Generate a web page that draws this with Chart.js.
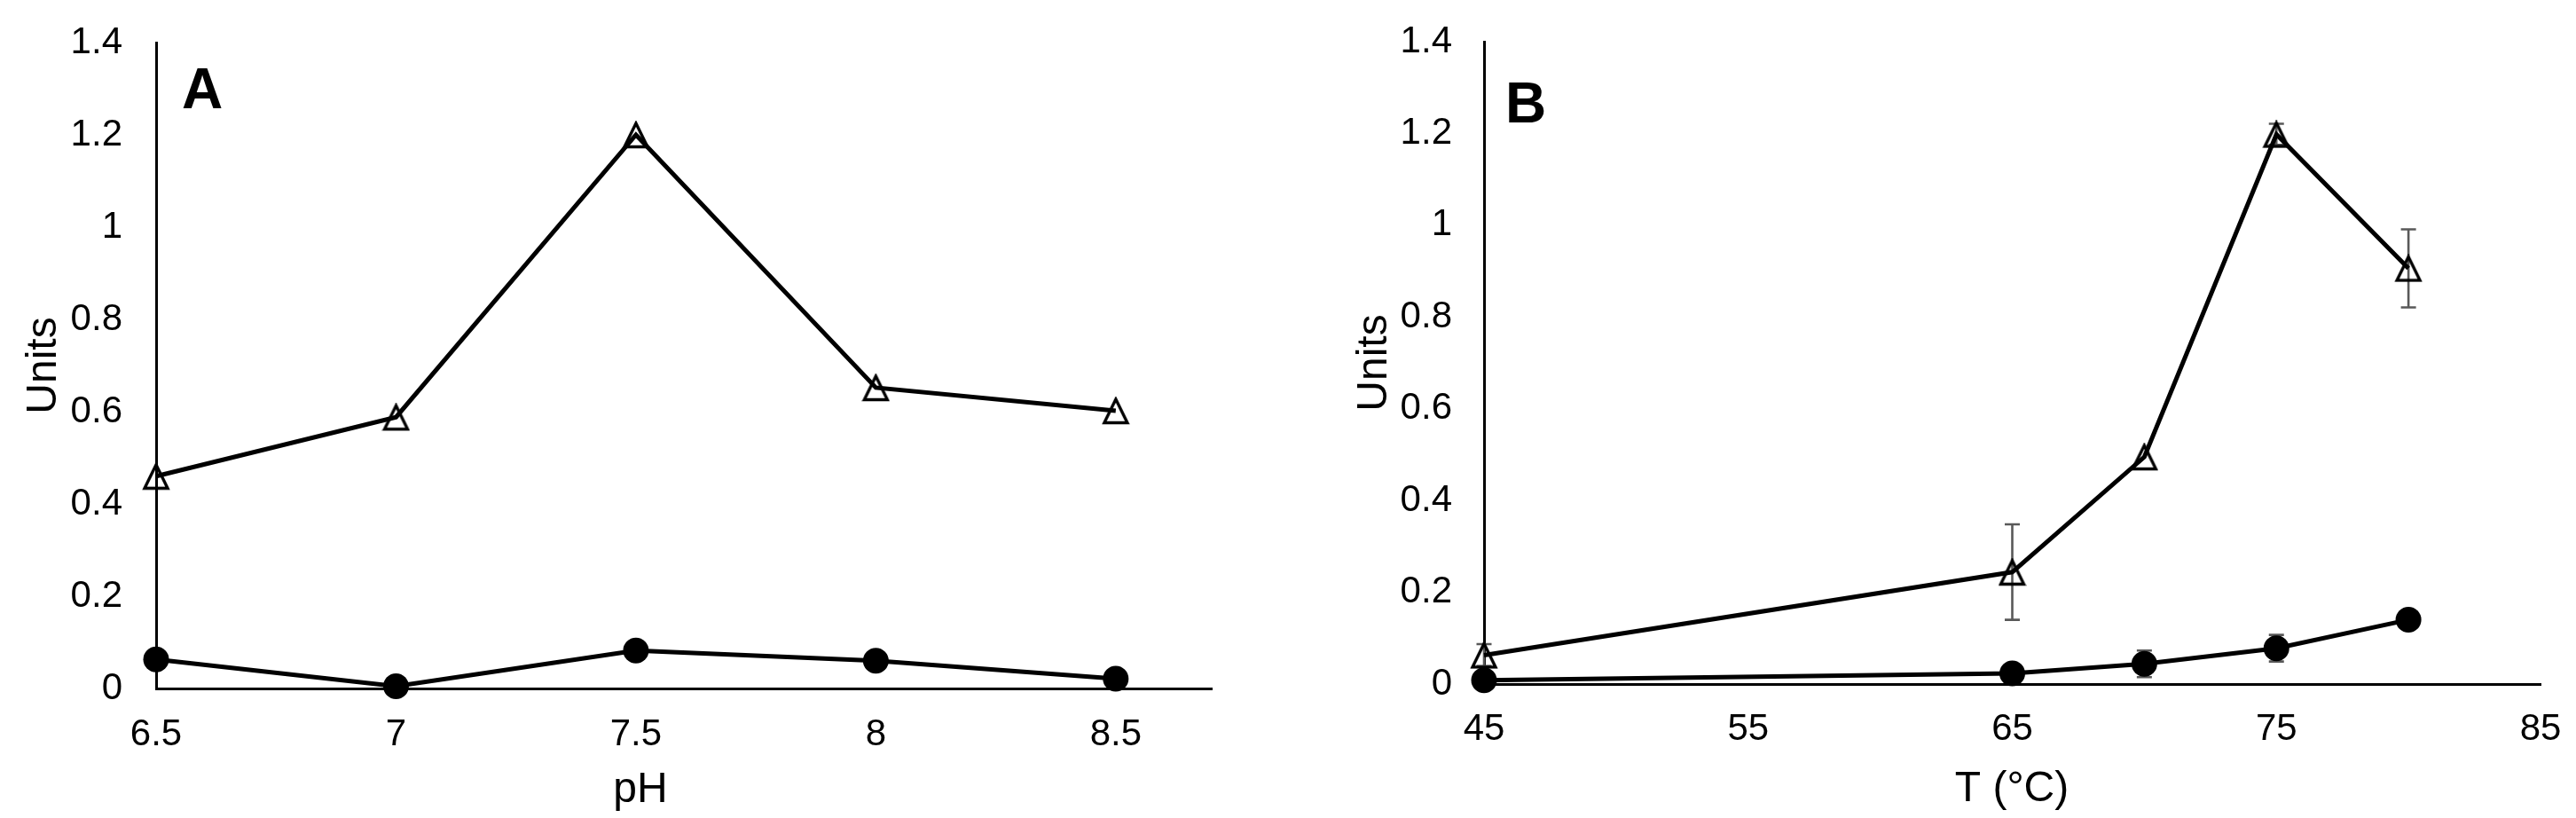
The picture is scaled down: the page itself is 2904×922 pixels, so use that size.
<!DOCTYPE html>
<html><head><meta charset="utf-8">
<script src="https://cdn.jsdelivr.net/npm/chart.js@4"></script>
<style>
html,body{margin:0;padding:0;background:#fff;}
#wrap{position:relative;width:2904px;height:922px;overflow:hidden;}
canvas{position:absolute;top:0;}
</style></head><body>
<div id="wrap">
<canvas id="cA" width="1452" height="922" style="left:0;width:1452px;height:922px"></canvas>
<canvas id="cB" width="1452" height="922" style="left:1452px;width:1452px;height:922px"></canvas>
</div>
<script>
// ---- data ----
const pH = [6.5, 7, 7.5, 8, 8.5];
const unitsTriA = [0.46, 0.588, 1.2, 0.652, 0.602];
const unitsCirA = [0.063, 0.005, 0.082, 0.06, 0.021];

const temp = [45, 65, 70, 75, 80];
const unitsTriB = [0.063, 0.244, 0.495, 1.198, 0.906];
const errTriB = [0.024, 0.104, 0, 0.023, 0.085];
const unitsCirB = [0.008, 0.023, 0.044, 0.078, 0.14];
const errCirB = [0, 0.006, 0.029, 0.029, 0];

const yTicks = [0, 0.2, 0.4, 0.6, 0.8, 1, 1.2, 1.4];
const xTicksA = [6.5, 7, 7.5, 8, 8.5];
const xTicksB = [45, 55, 65, 75, 85];

const FONT = "'Liberation Sans', Arial, Helvetica, sans-serif";

// open triangle marker
const tri = document.createElement('canvas');
tri.width = 32; tri.height = 32;
(function(){
  const c = tri.getContext('2d');
  c.strokeStyle = '#000'; c.lineWidth = 3.4; c.lineJoin = 'miter';
  c.beginPath(); c.moveTo(16, 3); c.lineTo(29, 29.5); c.lineTo(3, 29.5); c.closePath(); c.stroke();
})();

const pts = (xs, ys) => xs.map((x, i) => ({x: x, y: ys[i]}));

const errorBars = {
  id: 'errorBars',
  beforeDatasetsDraw(chart, args, opts) {
    if (!opts.sets) return;
    const ctx = chart.ctx, xs = chart.scales.x, ys = chart.scales.y;
    ctx.save();
    ctx.strokeStyle = '#595959'; ctx.lineWidth = 2.6;
    opts.sets.forEach(s => {
      s.x.forEach((xv, i) => {
        const e = s.err[i];
        if (!e) return;
        const px = xs.getPixelForValue(xv);
        const t = ys.getPixelForValue(s.y[i] + e);
        const b = ys.getPixelForValue(s.y[i] - e);
        ctx.beginPath();
        ctx.moveTo(px, t); ctx.lineTo(px, b);
        ctx.moveTo(px - 8.5, t); ctx.lineTo(px + 8.5, t);
        ctx.moveTo(px - 8.5, b); ctx.lineTo(px + 8.5, b);
        ctx.stroke();
      });
    });
    ctx.restore();
  }
};

const texts = {
  id: 'texts',
  afterDraw(chart, args, o) {
    const ctx = chart.ctx;
    ctx.save();
    ctx.fillStyle = '#000';
    ctx.font = 'bold 64px ' + FONT;
    ctx.textAlign = 'left'; ctx.textBaseline = 'alphabetic';
    ctx.fillText(o.letter, o.letterX, o.letterY);
    ctx.font = '48px ' + FONT;
    ctx.textAlign = 'center';
    ctx.fillText(o.xTitle, o.xTitleX, o.xTitleY);
    ctx.translate(o.yTitleX, o.yTitleY);
    ctx.rotate(-Math.PI / 2);
    ctx.fillText('Units', 0, 0);
    ctx.restore();
  }
};

function makeChart(id, xs, tri_y, cir_y, xMin, xMax, xTicks, geo, textOpts, errSets) {
  const scaleCommon = {
    grid: {display: false, drawTicks: false},
    border: {display: true, color: '#000', width: 3},
  };
  return new Chart(document.getElementById(id), {
    type: 'line',
    data: {
      datasets: [
        {data: pts(xs, cir_y), borderColor: '#000', borderWidth: 5, pointStyle: 'circle',
         pointRadius: 14.5, pointBackgroundColor: '#000', pointBorderColor: '#000', pointBorderWidth: 0,
         clip: false, tension: 0, fill: false},
        {data: pts(xs, tri_y), borderColor: '#000', borderWidth: 5, pointStyle: tri,
         pointRadius: 15, clip: false, tension: 0, fill: false}
      ]
    },
    options: {
      responsive: false, animation: false, devicePixelRatio: 1, events: [],
      layout: {padding: {left: 0, top: geo.top, right: geo.right, bottom: 0}},
      plugins: {legend: {display: false}, tooltip: {enabled: false},
                texts: textOpts, errorBars: {sets: errSets}},
      scales: {
        x: Object.assign({}, scaleCommon, {
          type: 'linear', min: xMin, max: xMax,
          afterBuildTicks: s => { s.ticks = xTicks.map(v => ({value: v})); },
          afterFit: s => { s.height = geo.xh; s.paddingLeft = 0; s.paddingRight = 0; s.paddingTop = 0; s.paddingBottom = 0; },
          ticks: {color: '#000', font: {family: FONT, size: 42}, padding: geo.xpad,
                  maxRotation: 0, autoSkip: false, callback: v => String(v)}
        }),
        y: Object.assign({}, scaleCommon, {
          type: 'linear', min: 0, max: 1.4,
          afterBuildTicks: s => { s.ticks = yTicks.map(v => ({value: v})); },
          afterFit: s => { s.width = geo.yw; s.paddingLeft = 0; s.paddingRight = 0; s.paddingTop = 0; s.paddingBottom = 0; },
          ticks: {color: '#000', font: {family: FONT, size: 42}, padding: geo.ypad,
                  autoSkip: false, callback: v => String(v)}
        })
      }
    },
    plugins: [errorBars, texts]
  });
}

makeChart('cA', pH, unitsTriA, unitsCirA, 6.5, 8.7, xTicksA,
  {top: 48, right: 86, xh: 146, yw: 176, xpad: 27, ypad: 38},
  {letter: 'A', letterX: 205, letterY: 122, xTitle: 'pH', xTitleX: 722, xTitleY: 904, yTitleX: 63, yTitleY: 412},
  null);

makeChart('cB', temp, unitsTriB, unitsCirB, 45, 85, xTicksB,
  {top: 47, right: 40, xh: 151, yw: 221, xpad: 26, ypad: 36},
  {letter: 'B', letterX: 245, letterY: 138, xTitle: 'T (°C)', xTitleX: 816, xTitleY: 903, yTitleX: 111, yTitleY: 409},
  [{x: temp, y: unitsTriB, err: errTriB}, {x: temp, y: unitsCirB, err: errCirB}]);
</script>
</body></html>
